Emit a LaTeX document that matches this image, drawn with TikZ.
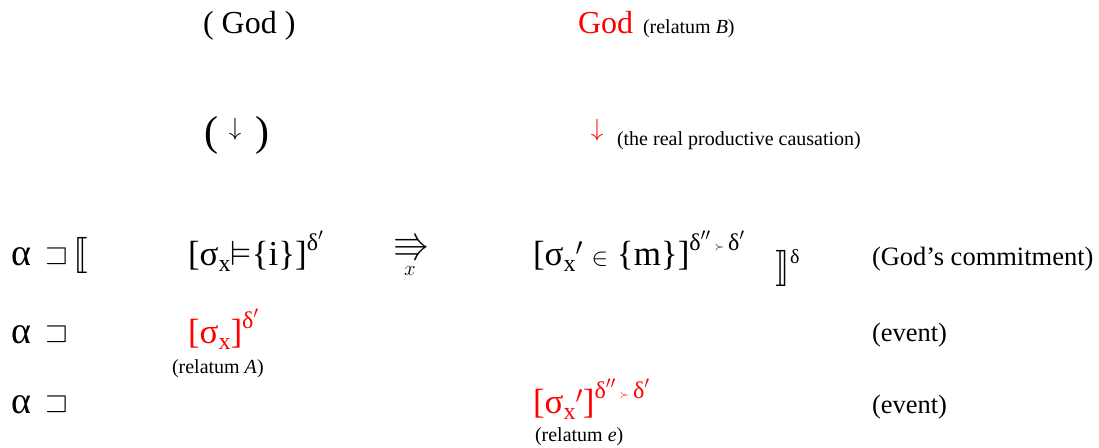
\documentclass[tikz,border=0pt]{standalone}
\usepackage{amssymb}
\usepackage{stmaryrd}
\usepackage{graphicx}
\usepackage{fontspec}
\setmainfont{Liberation Serif}
\newcommand{\dn}[1]{\raisebox{-6pt}{\fontsize{24}{26}\selectfont #1}}
\newcommand{\upx}[1]{\raisebox{15pt}{\fontsize{24}{26}\selectfont #1}}
\newcommand{\tinysucc}{{\fontsize{13}{14}\selectfont$\succ$}}
\begin{document}
\begin{tikzpicture}[x=1pt,y=-1pt,
  every node/.style={inner sep=0pt,outer sep=0pt,anchor=base west},
  big/.style={font=\fontsize{35}{40}\selectfont},
  alph/.style={font=\fontsize{38}{40}\selectfont},
  brk/.style={font=\fontsize{35}{40}\selectfont},
  sqs/.style={font=\fontsize{29}{32}\selectfont},
  lbl/.style={font=\fontsize{26.5}{30}\selectfont},
  head/.style={font=\fontsize{32}{36}\selectfont},
  small/.style={font=\fontsize{20}{24}\selectfont},
  hl/.style={text=red}]
\useasboundingbox (0,0) rectangle (1099,447);
% row 1
\node[head] (god1) at (203,33) {( God )};
\node[head,hl] (god2) at (578,33) {God};
\node[small] (relB) at (643,33) {(relatum \textit{B})};
% row 2
\node[font=\fontsize{42}{46}\selectfont] (lp2) at (204,145) {(};
\node[font=\fontsize{24}{26}\selectfont,anchor=center] (da1) at (235,129) {$\downarrow$};
\node[font=\fontsize{42}{46}\selectfont,anchor=base east] (rp2) at (269,145) {)};
\node[font=\fontsize{26}{28}\selectfont,anchor=center,hl] (da2) at (597,130) {$\downarrow$};
\node[small] (cause) at (617,145) {(the real productive causation)};
% row 3
\node[alph] (al3) at (11,265) {α};
\node[sqs] (sq3) at (45,263) {$\sqsupset$};
\node[brk,anchor=center] (lb3) at (81,255) {\scalebox{1.45}{$\llbracket$}};
\node[big] (f1) at (188,265) {[σ\dn{x}$\vDash$\{i\}]\upx{δ$'$}};
\node[font=\fontsize{32}{34}\selectfont,anchor=center] (arr) at (412,247) {\scalebox{1.15}{$\Rrightarrow$}};
\node[font=\fontsize{22}{24}\selectfont,anchor=base] (ax) at (410,275) {$x$};
\node[big] (f2) at (533,265) {[σ\dn{x}$'$ $\in$ \{m\}]\upx{δ$''$\,\tinysucc\,δ$'$}};
\node[brk,anchor=center] (rb3) at (783,268) {\scalebox{1.45}{$\rrbracket$}};
\node[font=\fontsize{20}{22}\selectfont] (dl3) at (790,263) {δ};
\node[lbl] (lab3) at (872,265) {(God’s commitment)};
% row 4
\node[alph] (al4) at (11,343) {α};
\node[sqs] (sq4) at (45,341) {$\sqsupset$};
\node[big,hl] (f3) at (188,343) {[σ\dn{x}]\upx{δ$'$}};
\node[small] (relA) at (172,373) {(relatum \textit{A})};
\node[lbl] (lab4) at (872,341) {(event)};
% row 5
\node[alph] (al5) at (11,413) {α};
\node[sqs] (sq5) at (45,411) {$\sqsupset$};
\node[big,hl] (f4) at (533,413) {[σ\dn{x}$'$]\upx{δ$''$\,\tinysucc\,δ$'$}};
\node[small] (rele) at (535,441) {(relatum \textit{e})};
\node[lbl] (lab5) at (872,413) {(event)};
\end{tikzpicture}
\end{document}
